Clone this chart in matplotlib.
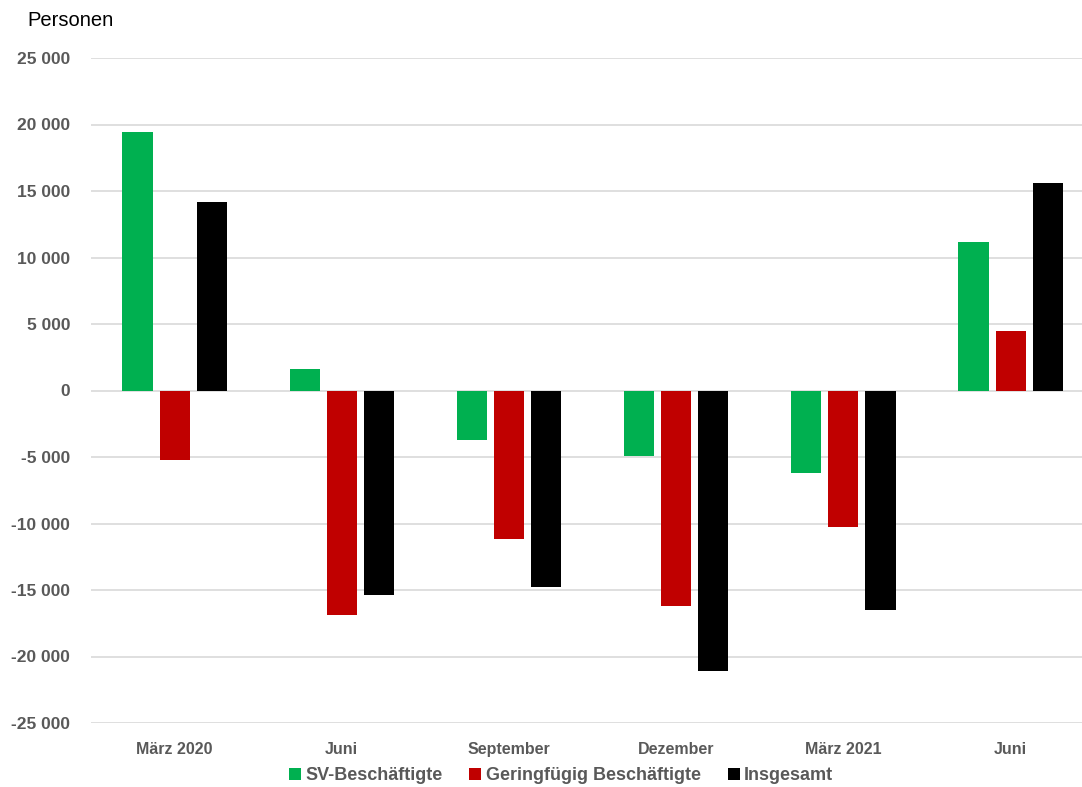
import matplotlib
matplotlib.use("Agg")
import matplotlib.pyplot as plt
from matplotlib.ticker import FuncFormatter
from matplotlib.patches import Patch
import numpy as np

categories = ["März 2020", "Juni", "September", "Dezember", "März 2021", "Juni"]
sv = [19400, 1580, -3690, -4890, -6170, 11130]
gering = [-5260, -16850, -11200, -16170, -10300, 4440]
insgesamt = [14140, -15340, -14810, -21060, -16470, 15570]
series_names = ["SV-Beschäftigte", "Geringfügig Beschäftigte", "Insgesamt"]
colors = ["#00B050", "#C00000", "#000000"]

plt.rcParams['font.family'] = ['Liberation Sans', 'DejaVu Sans']
W, H = 1082, 787
fig = plt.figure(figsize=(W/100, H/100), dpi=100)
ax = fig.add_axes([91/W, 1-723/H, 1-91/W, (723-58)/H])

x = np.arange(len(categories))
off = 0.222
w = 0.18
for i, (vals, c) in enumerate(zip([sv, gering, insgesamt], colors)):
    ax.bar(x + (i-1)*off, vals, width=w, color=c, zorder=3)

ax.set_ylim(-25000, 25000)
ax.set_xlim(-0.5, -0.5 + (W-91)/167.2)
ax.set_yticks(np.arange(-25000, 25001, 5000))
ax.yaxis.set_major_formatter(FuncFormatter(lambda v, p: f"{int(v):,}".replace(",", " ")))
ax.grid(axis='y', color='#D9D9D9', linewidth=1.2, zorder=0)
for s in ax.spines.values():
    s.set_visible(False)
ax.tick_params(axis='both', length=0, colors='#595959', labelsize=12.5)
ax.tick_params(axis='y', pad=15)
ax.tick_params(axis='x', pad=14)
ax.set_xticks(x)
ax.set_xticklabels(categories)
for lab in ax.get_xticklabels() + ax.get_yticklabels():
    lab.set_fontweight('bold')
    lab.set_color('#595959')
for lab in ax.get_xticklabels():
    lab.set_fontsize(11.5)

fig.text(27/W, 1-20/H, "Personen", fontsize=14.5, color='black', va='center', ha='left')

handles = [Patch(facecolor=c, edgecolor='none') for c in colors]
leg = fig.legend(handles, series_names, loc='center', bbox_to_anchor=(561/W, 1-776/H),
                 ncol=3, frameon=False, handlelength=0.65, handleheight=0.65,
                 handletextpad=0.25, columnspacing=1.5,
                 prop={'weight': 'bold', 'size': 13})
for t in leg.get_texts():
    t.set_color('#595959')

fig.savefig("out.png", dpi=100)
